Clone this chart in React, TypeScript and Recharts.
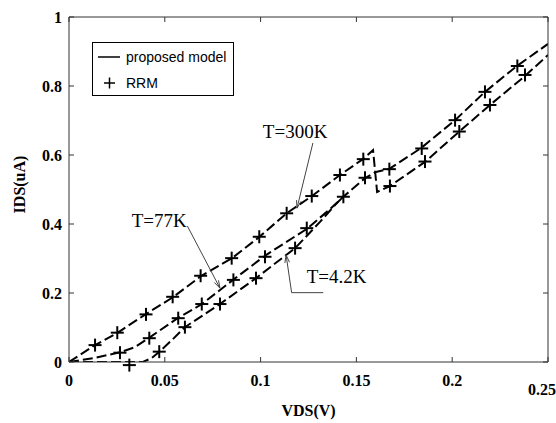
import React from 'react';
import {
  ComposedChart, Line, Scatter, XAxis, YAxis, ReferenceLine, ReferenceDot, Legend,
} from 'recharts';

// ---- data (VDS in V, IDS in uA) ----
const xTicks = [0, 0.05, 0.1, 0.15, 0.2, 0.25];
const yTicks = [0, 0.2, 0.4, 0.6, 0.8, 1];

// proposed model, T=300K
const model300 = [
  { v: 0, i: 0 }, { v: 0.0136, i: 0.049 }, { v: 0.0251, i: 0.084 }, { v: 0.0402, i: 0.139 },
  { v: 0.0543, i: 0.188 }, { v: 0.0689, i: 0.249 }, { v: 0.0851, i: 0.301 }, { v: 0.0992, i: 0.362 },
  { v: 0.1138, i: 0.432 }, { v: 0.1268, i: 0.481 }, { v: 0.1414, i: 0.542 }, { v: 0.1534, i: 0.588 },
  { v: 0.1587, i: 0.614 }, { v: 0.1608, i: 0.493 }, { v: 0.1675, i: 0.51 }, { v: 0.1858, i: 0.58 },
  { v: 0.2035, i: 0.667 }, { v: 0.2197, i: 0.745 }, { v: 0.238, i: 0.829 }, { v: 0.25, i: 0.89 },
];
// proposed model, T=77K
const model77 = [
  { v: 0, i: 0 }, { v: 0.0136, i: 0.012 }, { v: 0.0266, i: 0.028 }, { v: 0.0344, i: 0.043 },
  { v: 0.0418, i: 0.07 }, { v: 0.0569, i: 0.128 }, { v: 0.0694, i: 0.168 }, { v: 0.0856, i: 0.238 },
  { v: 0.1028, i: 0.31 }, { v: 0.1242, i: 0.386 }, { v: 0.1362, i: 0.443 }, { v: 0.143, i: 0.478 },
  { v: 0.1545, i: 0.533 }, { v: 0.1602, i: 0.551 }, { v: 0.167, i: 0.559 }, { v: 0.1837, i: 0.62 },
  { v: 0.2015, i: 0.701 }, { v: 0.2171, i: 0.783 }, { v: 0.2338, i: 0.858 }, { v: 0.25, i: 0.922 },
];
// proposed model, T=4.2K
const model4 = [
  { v: 0, i: 0 }, { v: 0.0386, i: 0 }, { v: 0.0433, i: 0.012 }, { v: 0.047, i: 0.029 },
  { v: 0.0538, i: 0.064 }, { v: 0.0605, i: 0.101 }, { v: 0.0788, i: 0.168 }, { v: 0.0976, i: 0.243 },
  { v: 0.118, i: 0.33 }, { v: 0.131, i: 0.406 }, { v: 0.1388, i: 0.455 }, { v: 0.143, i: 0.478 },
];

// RRM points
const rrm300 = [
  { v: 0.0136, i: 0.049 }, { v: 0.0252, i: 0.085 }, { v: 0.0402, i: 0.138 }, { v: 0.0541, i: 0.189 },
  { v: 0.0687, i: 0.25 }, { v: 0.0849, i: 0.301 }, { v: 0.0993, i: 0.363 }, { v: 0.1136, i: 0.431 },
  { v: 0.1267, i: 0.481 }, { v: 0.1414, i: 0.542 }, { v: 0.1536, i: 0.588 }, { v: 0.1672, i: 0.559 },
  { v: 0.1841, i: 0.619 }, { v: 0.2015, i: 0.701 }, { v: 0.2171, i: 0.783 }, { v: 0.234, i: 0.858 },
];
const rrm77 = [
  { v: 0.0266, i: 0.027 }, { v: 0.0419, i: 0.069 }, { v: 0.057, i: 0.127 }, { v: 0.0693, i: 0.168 },
  { v: 0.0858, i: 0.238 }, { v: 0.1023, i: 0.305 }, { v: 0.1241, i: 0.388 }, { v: 0.1432, i: 0.479 },
  { v: 0.1545, i: 0.534 }, { v: 0.1675, i: 0.51 }, { v: 0.1858, i: 0.581 }, { v: 0.2037, i: 0.668 },
  { v: 0.2197, i: 0.745 }, { v: 0.238, i: 0.832 },
];
const rrm4 = [
  { v: 0.0315, i: -0.009 }, { v: 0.0471, i: 0.03 }, { v: 0.0605, i: 0.101 }, { v: 0.0788, i: 0.168 },
  { v: 0.0976, i: 0.243 }, { v: 0.118, i: 0.33 },
];

// annotations (text baseline centre, and arrows)
const labels = [
  { text: 'T=300K', v: 0.118, i: 0.65 },
  { text: 'T=77K', v: 0.0471, i: 0.392 },
  { text: 'T=4.2K', v: 0.1397, i: 0.23 },
];
const arrows = [
  { from: { v: 0.1273, i: 0.635 }, to: { v: 0.119, i: 0.446 }, head: true },
  { from: { v: 0.0618, i: 0.394 }, to: { v: 0.0788, i: 0.214 }, head: true },
  { from: { v: 0.1327, i: 0.201 }, to: { v: 0.1162, i: 0.201 }, head: false },
  { from: { v: 0.1162, i: 0.201 }, to: { v: 0.1133, i: 0.31 }, head: true },
];

const serif = '"Liberation Serif", "Times New Roman", serif';
const sans = '"Liberation Sans", Arial, sans-serif';
const axisColor = '#333';

const Plus = (props: any) => {
  const { cx, cy } = props;
  if (cx == null || cy == null) return <g />;
  return (
    <g stroke="#000" strokeWidth={2}>
      <line x1={cx - 6.5} y1={cy} x2={cx + 6.5} y2={cy} />
      <line x1={cx} y1={cy - 6.5} x2={cx} y2={cy + 6.5} />
    </g>
  );
};

const arrowShape = (head: boolean) => (props: any) => {
  const { x1, y1, x2, y2 } = props;
  const ang = Math.atan2(y2 - y1, x2 - x1);
  const L = 8;
  const a1 = ang + Math.PI - 0.3;
  const a2 = ang + Math.PI + 0.3;
  return (
    <g stroke="#444" strokeWidth={1} fill="none">
      <line x1={x1} y1={y1} x2={x2} y2={y2} />
      {head && (
        <path d={`M${x2 + L * Math.cos(a1)},${y2 + L * Math.sin(a1)} L${x2},${y2} L${x2 + L * Math.cos(a2)},${y2 + L * Math.sin(a2)}`} />
      )}
    </g>
  );
};

const XTick = (props: any) => {
  const { x, y, payload } = props;
  const extra = payload.value === 0.25 ? 9 : 0;
  return (
    <text x={x} y={y + 11 + extra} textAnchor="middle" fontFamily={serif} fontSize={16} fontWeight="bold" fill="#000">
      {String(payload.value)}
    </text>
  );
};

const NoTick = () => <g />;

const LegendBox = () => (
  <svg width={143} height={55} style={{ display: 'block' }}>
    <rect x={0.5} y={0.5} width={141} height={53} fill="#fff" stroke="#000" strokeWidth={1} />
    <line x1={6} y1={15} x2={28} y2={15} stroke="#000" strokeWidth={1.5} />
    <text x={34} y={19.5} fontFamily={sans} fontSize={14} fill="#000">proposed model</text>
    <line x1={12} y1={41} x2={23} y2={41} stroke="#000" strokeWidth={1.5} />
    <line x1={17.5} y1={35.5} x2={17.5} y2={46.5} stroke="#000" strokeWidth={1.5} />
    <text x={34} y={46} fontFamily={sans} fontSize={14} fill="#000">RRM</text>
  </svg>
);

const yMin = yTicks[0];
const rrm4In = rrm4.filter((p) => p.i >= yMin);
const rrm4Out = rrm4.filter((p) => p.i < yMin);

export default function App() {
  return (
    <div style={{ position: 'absolute', left: 0, top: 0, background: '#fff' }}>
      <ComposedChart width={556} height={423} margin={{ top: 16, right: 7, left: 0, bottom: 0 }}>
        <XAxis
          xAxisId={0}
          type="number"
          dataKey="v"
          domain={[0, 0.25]}
          ticks={xTicks}
          allowDataOverflow
          height={61}
          stroke={axisColor}
          tickSize={-5}
          tickMargin={18}
          tick={<XTick />}
          label={{ value: 'VDS(V)', position: 'insideBottom', offset: 7, style: { fontFamily: serif, fontSize: 16, fontWeight: 'bold', fill: '#000' } }}
        />
        <XAxis
          xAxisId="top"
          orientation="top"
          type="number"
          dataKey="v"
          domain={[0, 0.25]}
          ticks={xTicks}
          allowDataOverflow
          height={1}
          stroke={axisColor}
          tickSize={-5}
          tick={<NoTick />}
        />
        <YAxis
          yAxisId={0}
          type="number"
          dataKey="i"
          domain={[0, 1]}
          ticks={yTicks}
          allowDataOverflow
          width={69}
          stroke={axisColor}
          tickSize={-5}
          tickMargin={12}
          tick={{ fontFamily: serif, fontSize: 16, fontWeight: 'bold', fill: '#000' }}
          label={{
            content: (p: any) => {
              const vb = p.viewBox || { x: 0, y: 17, width: 69, height: 345 };
              const cx = 25;
              const cy = vb.y + vb.height / 2 - 5;
              return (
                <text x={cx} y={cy} transform={`rotate(-90 ${cx} ${cy})`} textAnchor="middle" fontFamily={serif} fontSize={16} fontWeight="bold" fill="#000">
                  IDS(uA)
                </text>
              );
            },
          }}
        />
        <YAxis
          yAxisId="right"
          orientation="right"
          type="number"
          dataKey="i"
          domain={[0, 1]}
          ticks={yTicks}
          allowDataOverflow
          width={1}
          stroke={axisColor}
          tickSize={-5}
          tick={<NoTick />}
        />
        <Legend
          layout="horizontal"
          align="center"
          verticalAlign="middle"
          wrapperStyle={{ left: 92, top: 42, width: 143, height: 55 }}
          content={() => <LegendBox />}
        />

        <Line data={model300} dataKey="i" type="linear" stroke="#000" strokeWidth={2} strokeDasharray="10 4" dot={false} isAnimationActive={false} legendType="none" />
        <Line data={model77} dataKey="i" type="linear" stroke="#000" strokeWidth={2} strokeDasharray="10 4" dot={false} isAnimationActive={false} legendType="none" />
        <Line data={model4} dataKey="i" type="linear" stroke="#000" strokeWidth={2} strokeDasharray="10 4" dot={false} isAnimationActive={false} legendType="none" />

        <Scatter data={rrm300} dataKey="i" shape={Plus} isAnimationActive={false} legendType="none" />
        <Scatter data={rrm77} dataKey="i" shape={Plus} isAnimationActive={false} legendType="none" />
        <Scatter data={rrm4In} dataKey="i" shape={Plus} isAnimationActive={false} legendType="none" />
        {rrm4Out.map((p, k) => (
          <ReferenceDot key={`o${k}`} x={p.v} y={p.i} r={0} ifOverflow="visible" shape={Plus} />
        ))}

        {arrows.map((a, k) => (
          <ReferenceLine
            key={`a${k}`}
            segment={[{ x: a.from.v, y: a.from.i }, { x: a.to.v, y: a.to.i }]}
            shape={arrowShape(a.head)}
            ifOverflow="visible"
          />
        ))}
        {labels.map((l, k) => (
          <ReferenceDot
            key={`l${k}`}
            x={l.v}
            y={l.i}
            r={0}
            ifOverflow="visible"
            shape={(p: any) => (
              <text x={p.cx} y={p.cy} textAnchor="middle" fontFamily={serif} fontSize={19} fill="#000">
                {l.text}
              </text>
            )}
          />
        ))}
      </ComposedChart>
    </div>
  );
}
